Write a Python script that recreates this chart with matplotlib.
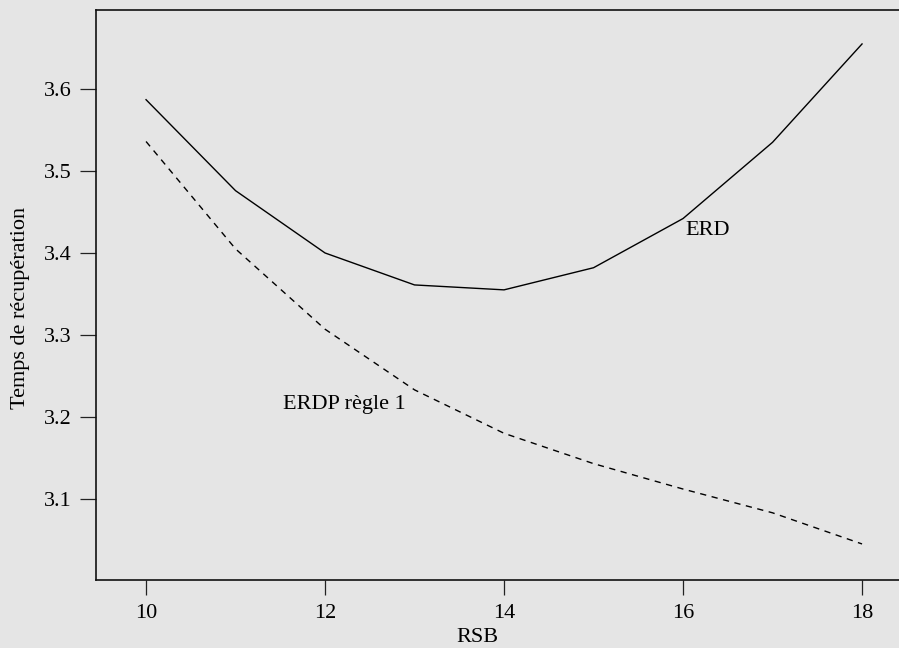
import matplotlib
matplotlib.use("Agg")
import matplotlib.pyplot as plt

rsb = [10, 11, 12, 13, 14, 15, 16, 17, 18]
erd = [3.587, 3.476, 3.400, 3.361, 3.355, 3.382, 3.442, 3.535, 3.655]
erdp = [3.536, 3.405, 3.307, 3.233, 3.180, 3.143, 3.112, 3.083, 3.045]
xticks = [10, 12, 14, 16, 18]
yticks = [3.1, 3.2, 3.3, 3.4, 3.5, 3.6]

plt.rcParams['font.family'] = ['Liberation Serif', 'DejaVu Serif']
bg = '#e5e5e5'
fig = plt.figure(figsize=(8.99, 6.48), dpi=100, facecolor=bg)
ax = fig.add_axes([0.1068, 0.1049, 0.8932, 0.8804], facecolor=bg)

ax.plot(rsb, erd, color='black', lw=1.0, solid_joinstyle='miter')
ax.plot(rsb, erdp, color='black', lw=1.0, linestyle=(0, (4.5, 4.0)))

ax.text(16.28, 3.427, 'ERD', fontsize=16, ha='center', va='center')
ax.text(12.22, 3.215, 'ERDP règle 1', fontsize=16, ha='center', va='center')

ax.set_xlim(9.441, 18.413)
ax.set_ylim(3.001, 3.697)
ax.set_xticks(xticks)
ax.set_xticklabels([str(t) for t in xticks])
ax.set_yticks(yticks)
ax.set_yticklabels([f'{t:.1f}' for t in yticks])

for s in ['left', 'top', 'bottom']:
    ax.spines[s].set_linewidth(1.2)
    ax.spines[s].set_color('#111111')
ax.spines['right'].set_visible(False)

ax.tick_params(axis='x', length=11, width=0.9, pad=6, labelsize=16, color='#222222')
ax.tick_params(axis='y', length=11.5, width=0.9, pad=6, labelsize=16, color='#222222')

ax.set_xlabel('RSB', fontsize=16)
ax.set_ylabel('Temps de récupération', fontsize=16)
ax.xaxis.set_label_coords(0.4745, -0.084)
ax.yaxis.set_label_coords(-0.0946, 0.4768)
ax.yaxis.label.set_va('center')

fig.savefig('out.png', dpi=100, facecolor=bg)
